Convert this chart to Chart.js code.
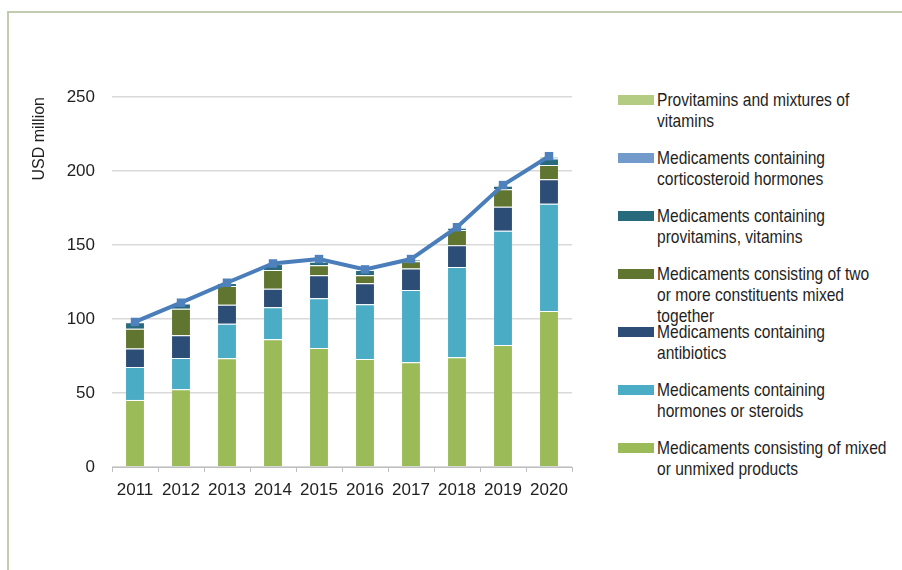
<!DOCTYPE html>
<html>
<head>
<meta charset="utf-8">
<script src="https://cdn.jsdelivr.net/npm/chart.js@4.4.1/dist/chart.umd.min.js"></script>
<style>
  html, body { margin: 0; padding: 0; background: #fff; }
  body { width: 902px; height: 570px; position: relative; overflow: hidden;
         font-family: 'Liberation Sans', Arial, sans-serif; }
  #frame { position: absolute; left: 7px; top: 11px; right: -4px; bottom: -4px;
           border-left: 2px solid #c2ccb0; border-top: 2px solid #c2ccb0; }
  #plot { position: absolute; left: 0; top: 0; }
  #legend { position: absolute; left: 0; top: 0; }
  .item { position: absolute; left: 618px; }
  .swatch { position: absolute; left: 0; top: 0; width: 36px; height: 10px; }
  /* narrow face emulated by squeezing the regular one */
  .txt { position: absolute; left: 39px; top: -6px; font-size: 19px; line-height: 21px;
         color: #1f1f1f; white-space: nowrap; transform: scaleX(0.82); transform-origin: 0 0; }
</style>
</head>
<body>
<div id="frame"></div>
<canvas id="plot" width="580" height="570"></canvas>
<div id="legend"></div>
<script>
const years = ['2011', '2012', '2013', '2014', '2015', '2016', '2017', '2018', '2019', '2020'];

// USD million, bottom of the stack first
const mixedUnmixed   = [45.3, 52.5, 73.4, 86.3, 80.4, 73.0, 70.7, 74.1, 82.4, 105.4];
const hormones       = [22.3, 21.1, 23.4, 21.6, 33.6, 36.9, 48.9, 61.0, 77.3, 72.5];
const antibiotics    = [12.4, 15.4, 12.9, 12.6, 15.5, 14.2, 14.6, 14.7, 16.2, 16.5];
const twoOrMore      = [13.4, 18.0, 12.6, 12.6, 6.8, 5.4, 4.8, 10.3, 11.7, 9.6];
const provitVitamins = [4.4, 3.5, 2.0, 4.0, 2.4, 3.6, 1.2, 1.6, 2.4, 4.5];
const corticosteroid = [0.2, 0.2, 0.1, 0.2, 0.3, 0.2, 0.1, 0.1, 0.2, 0.5];
const provitMixtures = [0.0, 0.3, 0.1, 0.2, 1.5, 0.2, 0.2, 0.2, 0.3, 1.0];
const totals         = [98.0, 111.0, 124.5, 137.5, 140.5, 133.5, 140.5, 162.0, 190.5, 210.0];

const yTicks = [0, 50, 100, 150, 200, 250];

// legend wording, one entry per line
const names = {
  mixedUnmixed:   ['Medicaments consisting of mixed', 'or unmixed products'],
  hormones:       ['Medicaments containing', 'hormones or steroids'],
  antibiotics:    ['Medicaments containing', 'antibiotics'],
  twoOrMore:      ['Medicaments consisting of two', 'or more constituents mixed', 'together'],
  provitVitamins: ['Medicaments containing', 'provitamins, vitamins'],
  corticosteroid: ['Medicaments containing', 'corticosteroid hormones'],
  provitMixtures: ['Provitamins and mixtures of', 'vitamins']
};

Chart.defaults.font.family = "'Liberation Sans', Arial, sans-serif";
Chart.defaults.font.size = 17;
Chart.defaults.color = '#1f1f1f';

function barSet(key, data, color) {
  return {
    type: 'bar',
    label: names[key].join(' '),
    lines: names[key],
    data: data,
    backgroundColor: color,
    borderColor: 'rgba(255,255,255,0.35)',
    borderWidth: { top: 1 },
    borderSkipped: false,
    barPercentage: 0.39,
    categoryPercentage: 1,
    order: 1
  };
}

const datasets = [
  barSet('mixedUnmixed', mixedUnmixed, '#9bbb59'),
  barSet('hormones', hormones, '#4bacc6'),
  barSet('antibiotics', antibiotics, '#2c4d75'),
  barSet('twoOrMore', twoOrMore, '#5f7530'),
  barSet('provitVitamins', provitVitamins, '#276a7c'),
  barSet('corticosteroid', corticosteroid, '#729aca'),
  barSet('provitMixtures', provitMixtures, '#b3cc82'),
  {
    type: 'line',
    label: 'Total',
    data: totals,
    stack: 'total',
    borderColor: '#4a7ebb',
    backgroundColor: '#4f81bd',
    borderWidth: 4,
    pointStyle: 'rect',
    pointRadius: 6,
    pointBorderWidth: 0,
    tension: 0,
    order: 0
  }
];

const chart = new Chart(document.getElementById('plot'), {
  data: { labels: years, datasets: datasets },
  options: {
    responsive: false,
    animation: false,
    layout: { padding: { left: 0, right: 8, top: 97, bottom: 63 } },
    plugins: {
      legend: { display: false },
      tooltip: { enabled: false }
    },
    scales: {
      x: {
        stacked: true,
        offset: true,
        grid: { offset: true, drawOnChartArea: false, drawTicks: true, tickLength: 5, color: '#bfbfbf' },
        border: { display: true, color: '#bfbfbf', width: 1 },
        ticks: { padding: 8, maxRotation: 0, autoSkip: false },
        afterFit: s => { s.height = 40; }
      },
      y: {
        stacked: true,
        min: 0,
        max: 250,
        afterBuildTicks: s => { s.ticks = yTicks.map(v => ({ value: v })); },
        grid: { color: '#d9d9d9', lineWidth: 1.5, drawTicks: false },
        border: { display: false },
        ticks: { padding: 17 },
        title: {
          display: true,
          text: 'USD million',
          align: 'end',
          padding: { top: 30, bottom: 0 },
          font: { size: 16 }
        },
        afterFit: s => { s.width = 112; }
      }
    }
  }
});

// legend on the right, top entry is the last stacked series
const legend = document.getElementById('legend');
const boxTops = [95, 153, 211, 269, 327, 385, 443];
chart.data.datasets
  .filter(d => d.type === 'bar')
  .slice()
  .reverse()
  .forEach((d, i) => {
    const item = document.createElement('div');
    item.className = 'item';
    item.style.top = boxTops[i] + 'px';
    const sw = document.createElement('div');
    sw.className = 'swatch';
    sw.style.background = d.backgroundColor;
    const txt = document.createElement('div');
    txt.className = 'txt';
    txt.innerHTML = d.lines.join('<br>');
    item.appendChild(sw);
    item.appendChild(txt);
    legend.appendChild(item);
  });
</script>
</body>
</html>
